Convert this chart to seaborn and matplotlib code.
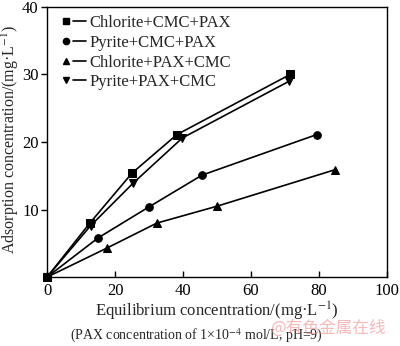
import matplotlib
matplotlib.use("Agg")
import matplotlib.pyplot as plt
from matplotlib.lines import Line2D
from matplotlib.legend_handler import HandlerTuple
import seaborn as sns
import pandas as pd

sns.set_theme(style="ticks")
plt.rcParams["font.family"] = ["Liberation Serif", "DejaVu Serif"]
plt.rcParams["mathtext.fontset"] = "stix"

# Equilibrium concentration (mg/L) and adsorbed amount (mg/L) for each system
series_names = ["Chlorite+CMC+PAX", "Pyrite+CMC+PAX", "Chlorite+PAX+CMC", "Pyrite+PAX+CMC"]
chl_cmc_pax_x = [0, 12.6, 25.0, 38.2, 71.5]
chl_cmc_pax_y = [0, 8.0, 15.4, 21.1, 30.0]
pyr_cmc_pax_x = [0, 15.0, 30.0, 45.6, 79.3]
pyr_cmc_pax_y = [0, 5.8, 10.4, 15.1, 21.1]
chl_pax_cmc_x = [0, 17.6, 32.3, 50.0, 84.7]
chl_pax_cmc_y = [0, 4.3, 8.0, 10.5, 15.9]
pyr_pax_cmc_x = [0, 12.8, 25.3, 39.8, 71.2]
pyr_pax_cmc_y = [0, 7.6, 13.9, 20.6, 29.0]

xs = [chl_cmc_pax_x, pyr_cmc_pax_x, chl_pax_cmc_x, pyr_pax_cmc_x]
ys = [chl_cmc_pax_y, pyr_cmc_pax_y, chl_pax_cmc_y, pyr_pax_cmc_y]
markers = ["s", "o", "^", "v"]

x_ticks = [0, 20, 40, 60, 80, 100]
y_ticks = [10, 20, 30, 40]
y_tick_labels = ["10", "20", "30", "40"]

fig = plt.figure(figsize=(4.0, 3.46), dpi=100)
ax = fig.add_axes([0.1175, 0.199, 0.85, 0.781])

handles = []
for name, x, y, m in zip(series_names, xs, ys, markers):
    df = pd.DataFrame({"x": x, "y": y})
    sns.lineplot(data=df, x="x", y="y", ax=ax, color="black", linewidth=1.2,
                 marker=m, markersize=5.5, markeredgecolor="black",
                 markerfacecolor="black", clip_on=False, sort=False,
                 estimator=None)
    handles.append((Line2D([], [], marker=m, color="black", linestyle="none", markersize=4.5),
                    Line2D([], [], color="black", linewidth=1.2)))

ax.set_xlim(0, 100)
ax.set_ylim(0, 40)
ax.set_xticks(x_ticks)
ax.set_yticks(y_ticks)
ax.set_yticklabels(y_tick_labels)
ax.tick_params(axis="x", direction="in", length=4, width=1, labelsize=12, pad=4, colors="black")
ax.tick_params(axis="y", direction="out", length=4, width=1, labelsize=12, pad=2, colors="black")
for s in ax.spines.values():
    s.set_visible(True)
    s.set_linewidth(1.0)
    s.set_color("black")

ax.set_xlabel("Equilibrium concentration/(mg·L$^{-1}$)", fontsize=12)
ax.xaxis.set_label_coords(0.5, -0.085)
ax.set_ylabel("Adsorption concentration/(mg·L$^{-1}$)", fontsize=11.5)
ax.yaxis.set_label_coords(-0.075, 0.51)

leg = ax.legend(handles, series_names, loc="upper left", frameon=False, fontsize=12,
                handler_map={tuple: HandlerTuple(ndivide=None, pad=0.0)},
                handlelength=1.6, handletextpad=0.2, labelspacing=0.22,
                borderaxespad=0.2, borderpad=0.3, bbox_to_anchor=(0.012, 1.0))

fig.text(0.175, 0.029, "(PAX concentration of 1×10$^{-4}$ mol/L, pH=9)", fontsize=10,
         ha="left", va="center")
fig.text(0.675, 0.052, "@有色金属在线", fontsize=12, color="#f08a8a", alpha=0.6,
         ha="left", va="center", family=["Noto Sans CJK SC", "DejaVu Sans"])

fig.savefig("out.png", dpi=100)
